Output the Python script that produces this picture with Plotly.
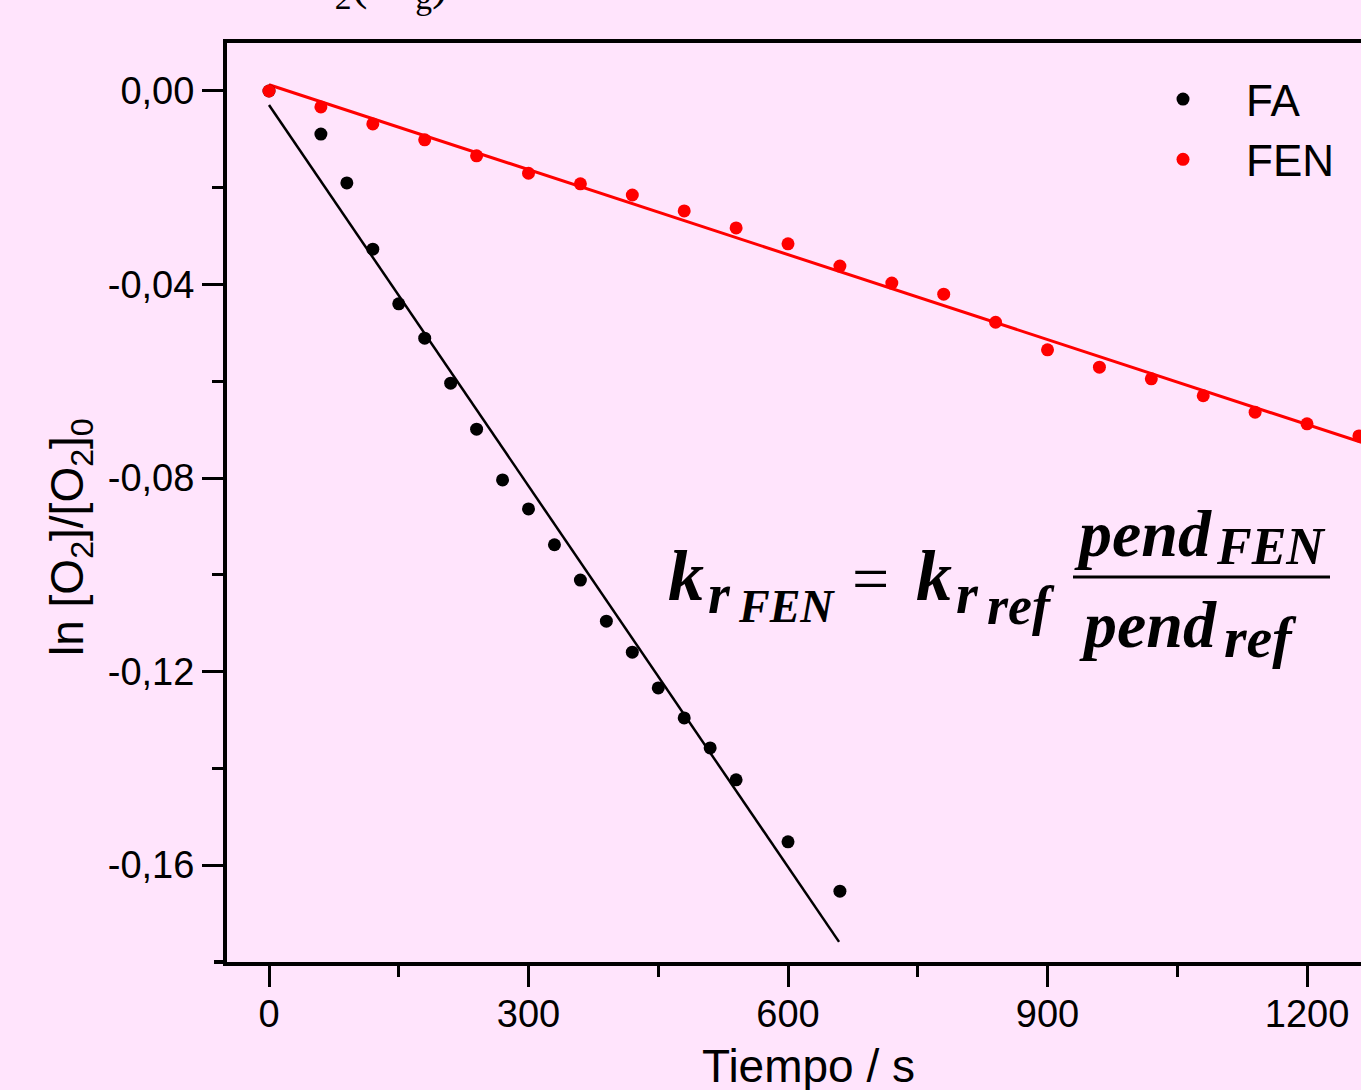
import plotly.graph_objects as go

# ---------------- data ----------------
fa_t = [0, 60, 90, 120, 150, 180, 210, 240, 270, 300, 330, 360, 390, 420, 450, 480, 510, 540, 600, 660]
fa_v = [0.0, -0.0089, -0.0190, -0.0327, -0.0440, -0.0511, -0.0604, -0.0699, -0.0804, -0.0864,
        -0.0938, -0.1011, -0.1096, -0.1160, -0.1234, -0.1296, -0.1358, -0.1424, -0.1552, -0.1654]

fen_t = [0, 60, 120, 180, 240, 300, 360, 420, 480, 540, 600, 660, 720, 780, 840, 900, 960,
         1020, 1080, 1140, 1200, 1260]
fen_v = [0.0, -0.0033, -0.0068, -0.0101, -0.0134, -0.0170, -0.0192, -0.0215, -0.0248, -0.0283,
         -0.0316, -0.0362, -0.0397, -0.0420, -0.0478, -0.0535, -0.0571, -0.0595, -0.0630, -0.0664,
         -0.0688, -0.0713]

# linear fits (end points)
fa_fit_t = [0, 659]
fa_fit_v = [-0.0029, -0.1759]
fen_fit_t = [0, 1300]
fen_fit_v = [0.0013, -0.0748]

x_tickvals = [0, 300, 600, 900, 1200]
x_ticktext = ["0", "300", "600", "900", "1200"]
x_minor = [150, 450, 750, 1050]
y_tickvals = [0.0, -0.04, -0.08, -0.12, -0.16]
y_ticktext = ["0,00", "-0,04", "-0,08", "-0,12", "-0,16"]
y_minor = [-0.02, -0.06, -0.10, -0.14]

# ---------------- figure ----------------
W, H = 1361, 1090
L, R, T, B = 227, 0, 43, 128
BG = "rgb(255,228,252)"
SANS = "Liberation Sans, Arial, sans-serif"
SERIF = "Liberation Serif, Times New Roman, serif"


def px(xp):
    return (xp - L) / (W - L - R)


def py(yp):
    return (H - B - yp) / (H - T - B)


fig = go.Figure()
fig.add_trace(go.Scatter(x=fa_fit_t, y=fa_fit_v, mode="lines", line=dict(color="black", width=2.5),
                         showlegend=False, hoverinfo="skip"))
fig.add_trace(go.Scatter(x=fen_fit_t, y=fen_fit_v, mode="lines", line=dict(color="#ff0000", width=3),
                         showlegend=False, hoverinfo="skip"))
fig.add_trace(go.Scatter(x=fa_t, y=fa_v, mode="markers", name="FA",
                         marker=dict(color="black", size=13)))
fig.add_trace(go.Scatter(x=fen_t, y=fen_v, mode="markers", name="FEN",
                         marker=dict(color="#ff0000", size=13)))

axis_common = dict(showgrid=False, zeroline=False, showline=True, linecolor="black", linewidth=4,
                   ticks="outside", tickcolor="black", tickwidth=3, ticklen=21,
                   tickfont=dict(family=SANS, size=38, color="black"))

fig.update_xaxes(range=[-48.55, 1262.4], tickmode="array", tickvals=x_tickvals, ticktext=x_ticktext,
                 mirror=True, ticklabelstandoff=-6,
                 minor=dict(ticks="outside", tickvals=x_minor, ticklen=11, tickwidth=3, tickcolor="black"),
                 **axis_common)
fig.update_yaxes(range=[-0.18005, 0.00992], tickmode="array", tickvals=y_tickvals, ticktext=y_ticktext,
                 minor=dict(ticks="outside", tickvals=y_minor, ticklen=11, tickwidth=3, tickcolor="black"),
                 ticklabelstandoff=0,
                 **axis_common)

annotations = []
# axis titles
annotations.append(dict(text="Tiempo / s", x=px(808), y=py(1066), xref="paper", yref="paper",
                        xanchor="center", yanchor="middle", showarrow=False,
                        font=dict(family=SANS, size=46, color="black")))
annotations.append(dict(text="ln [O<sub>2</sub>]/[O<sub>2</sub>]<sub>0</sub>", x=px(70), y=py(537),
                        xref="paper", yref="paper", xanchor="center", yanchor="middle",
                        textangle=-90, showarrow=False,
                        font=dict(family=SANS, size=46, color="black")))
# cut-off title at the top
annotations.append(dict(text="O<sub>2</sub>(<sup>1</sup>Δ<sub>g</sub>)", x=px(298), y=py(-17),
                        xref="paper", yref="paper", xanchor="left", yanchor="middle", showarrow=False,
                        font=dict(family=SERIF, size=48, color="black")))


def eq(text, xl, yc, size):
    annotations.append(dict(text="<b><i>" + text + "</i></b>", x=px(xl), y=py(yc), xref="paper",
                            yref="paper", xanchor="left", yanchor="middle", showarrow=False,
                            font=dict(family=SERIF, size=size, color="black")))


eq("k", 666, 576, 72)
eq("r", 706, 594, 56)
eq("FEN", 736, 606, 46)
annotations.append(dict(text="=", x=px(850), y=py(578), xref="paper", yref="paper", xanchor="left",
                        yanchor="middle", showarrow=False, font=dict(family=SERIF, size=66, color="black")))
eq("k", 914, 576, 72)
eq("r", 954, 594, 56)
eq("ref", 985, 606, 54)
eq("pend", 1072, 533, 66)
eq("FEN", 1214, 546, 52)
eq("pend", 1077, 624, 66)
eq("ref", 1222, 638, 58)

shapes = [
    dict(type="line", xref="paper", yref="paper", x0=px(1073), x1=px(1330), y0=py(577), y1=py(577),
         line=dict(color="black", width=3)),
    dict(type="line", xref="paper", yref="paper", x0=px(214), x1=0, y0=0, y1=0,
         line=dict(color="black", width=4)),
]

fig.update_layout(
    width=W, height=H, autosize=False,
    margin=dict(l=L, r=R, t=T, b=B, pad=0),
    paper_bgcolor=BG, plot_bgcolor=BG,
    font=dict(family=SANS, color="black"),
    showlegend=True,
    legend=dict(x=px(1120), y=py(64), xanchor="left", yanchor="top", bgcolor="rgba(0,0,0,0)",
                font=dict(family=SANS, size=44, color="black"), itemwidth=116, tracegroupgap=0),
    annotations=annotations,
    shapes=shapes,
)

fig.write_html("out.html")
